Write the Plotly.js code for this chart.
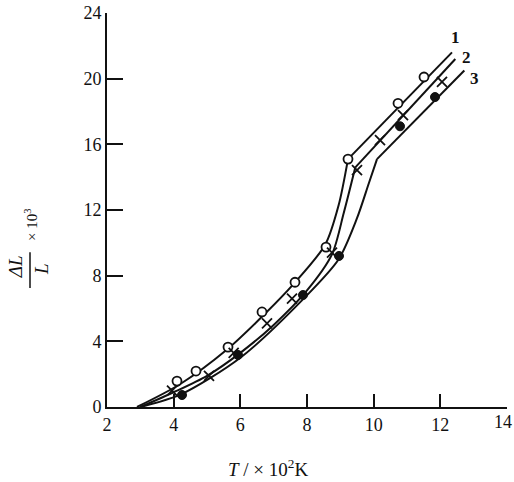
<!DOCTYPE html>
<html>
<head>
<meta charset="utf-8">
<script src="https://cdn.plot.ly/plotly-3.0.1.min.js"></script>
<style>html,body{margin:0;padding:0;background:#fff;}#chart{width:514px;height:482px;}</style>
</head>
<body>
<div id="chart"></div>
<script>
// ---- data ----
// drawn curves (smooth part up to the kink, then straight part)
const curve1BendX = [2.9, 4.2, 5.6, 6.7, 7.6, 8.55, 8.95, 9.23];
const curve1BendY = [0, 1.4, 3.5, 5.6, 7.5, 9.9, 12.3, 15.1];
const curve1LineX = [9.23, 12.35];
const curve1LineY = [15.1, 21.6];

const curve2BendX = [3.0, 4.0, 5.0, 6.0, 7.0, 8.0, 8.75, 9.1, 9.45];
const curve2BendY = [0, 0.9, 1.9, 3.3, 5.0, 7.1, 9.3, 11.8, 14.6];
const curve2LineX = [9.45, 12.45];
const curve2LineY = [14.6, 21.2];

const curve3BendX = [3.0, 4.2, 6.0, 7.9, 8.95, 9.5, 9.85, 10.1];
const curve3BendY = [0, 0.75, 3.0, 6.6, 9.0, 11.5, 13.6, 15.1];
const curve3LineX = [10.1, 12.72];
const curve3LineY = [15.1, 20.5];

// measured points
const pts1X = [4.1, 4.67, 5.63, 6.65, 7.64, 8.57, 9.23, 10.73, 11.51];
const pts1Y = [1.58, 2.19, 3.65, 5.79, 7.6, 9.74, 15.1, 18.5, 20.1];
const pts2X = [3.95, 5.06, 5.8, 6.8, 7.55, 8.75, 9.5, 10.19, 10.88, 12.05];
const pts2Y = [1.0, 1.9, 3.3, 5.1, 6.6, 9.4, 14.43, 16.26, 17.78, 19.8];
const pts3X = [4.25, 5.93, 7.88, 8.96, 10.79, 11.84];
const pts3Y = [0.73, 3.17, 6.82, 9.2, 17.1, 18.88];

const curveLabels = ["1", "2", "3"];
const labelX = [12.44, 12.77, 13.02];
const labelY = [22.5, 21.3, 20.0];

const xTicks = [2, 4, 6, 8, 10, 12, 14];
const xTickText = ['2', '4', '6', '8', '10', '12', '14'];
const yTicks = [0, 4, 8, 12, 16, 20, 24];

// ---- drawing ----
const lineStyle = {color: '#111', width: 2};
const traces = [];
function curve(x, y, spline) {
  traces.push({x: x, y: y, mode: 'lines', type: 'scatter', showlegend: false,
    hoverinfo: 'skip',
    line: Object.assign({}, lineStyle, spline ? {shape: 'spline', smoothing: 0.8} : {})});
}
curve(curve1BendX, curve1BendY, true); curve(curve1LineX, curve1LineY, false);
curve(curve2BendX, curve2BendY, true); curve(curve2LineX, curve2LineY, false);
curve(curve3BendX, curve3BendY, true); curve(curve3LineX, curve3LineY, false);

traces.push({x: pts1X, y: pts1Y, mode: 'markers', type: 'scatter', showlegend: false,
  marker: {symbol: 'circle', size: 9, color: '#fff', line: {color: '#111', width: 1.8}}});
traces.push({x: pts2X, y: pts2Y, mode: 'markers', type: 'scatter', showlegend: false,
  marker: {symbol: 'x-thin-open', size: 10, color: '#111', line: {color: '#111', width: 1.8}}});
traces.push({x: pts3X, y: pts3Y, mode: 'markers', type: 'scatter', showlegend: false,
  marker: {symbol: 'circle', size: 9, color: '#111', line: {color: '#111', width: 1}}});

const serif = 'Liberation Serif, DejaVu Serif, serif';
const annotations = curveLabels.map((t, i) => ({
  x: labelX[i], y: labelY[i], xref: 'x', yref: 'y', text: '<b>' + t + '</b>',
  xanchor: 'center', yanchor: 'middle',
  showarrow: false, font: {family: serif, size: 17, color: '#111'}
}));
function paperText(x, y, text, size, angle) {
  annotations.push({xref: 'paper', yref: 'paper', x: x, y: y, text: text,
    xanchor: 'center', yanchor: 'middle', textangle: angle || 0,
    showarrow: false, font: {family: serif, size: size, color: '#111'}});
}
// last x tick label sits at the very edge of the picture
annotations.push({xref: 'x', yref: 'paper', x: 14, y: 0, xanchor: 'center', yanchor: 'top',
  yshift: -3, xshift: -4, text: xTickText[6], showarrow: false,
  font: {family: serif, size: 18, color: '#111'}});
// y-axis title drawn as a rotated fraction
paperText(-0.23, 0.355, '<i>ΔL</i>', 19, -90);
paperText(-0.165, 0.35, '<i>L</i>', 19, -90);
paperText(-0.19, 0.462, '× 10<sup>3</sup>', 15, -90);
// x-axis title
paperText(0.4025, -0.155, '<i>T</i> / × 10<sup>2</sup>K', 19, 0);

const layout = {
  width: 514, height: 482,
  margin: {l: 107, r: 7, t: 13, b: 75},
  paper_bgcolor: '#fff', plot_bgcolor: '#fff',
  font: {family: serif, color: '#111'},
  xaxis: {
    range: [2, 14], tickvals: xTicks, ticktext: ['2', '4', '6', '8', '10', '12', ''],
    showgrid: false, zeroline: false, showline: true, linecolor: '#111', linewidth: 2,
    ticks: 'inside', ticklen: 13, tickwidth: 2, tickcolor: '#111',
    tickfont: {family: serif, size: 18, color: '#111'}
  },
  yaxis: {
    range: [0, 24], tickvals: yTicks, ticktext: yTicks.map(String),
    showgrid: false, zeroline: false, showline: true, linecolor: '#111', linewidth: 2,
    ticks: 'inside', ticklen: 16, tickwidth: 2, tickcolor: '#111',
    tickfont: {family: serif, size: 18, color: '#111'}
  },
  shapes: [{type: 'line', xref: 'paper', yref: 'paper', x0: -0.1925, x1: -0.1925, y0: 0.302, y1: 0.393,
    line: {color: '#111', width: 1.5}}],
  annotations: annotations,
  showlegend: false
};

Plotly.newPlot('chart', traces, layout, {displayModeBar: false, staticPlot: true});
</script>
</body>
</html>
